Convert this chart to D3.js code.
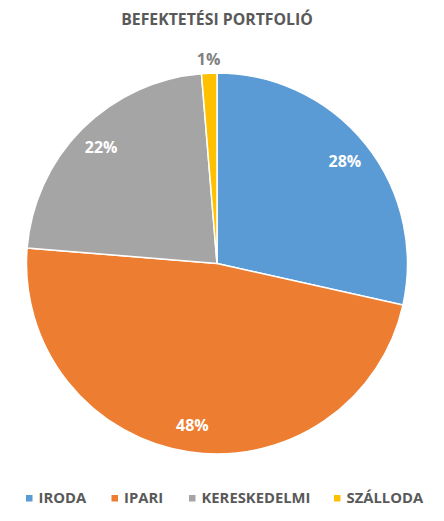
<!DOCTYPE html>
<html><head><meta charset="utf-8">
<script src="https://cdn.jsdelivr.net/npm/d3@7"></script>
<style>body{margin:0;background:#fff}svg{display:block}</style>
</head><body>
<svg id="c" width="444" height="521"></svg>
<script>
const categories = ["IRODA", "IPARI", "KERESKEDELMI", "SZÁLLODA"];
const values = [28.5, 47.8, 22.4, 1.3];
const labels = ["28%", "48%", "22%", "1%"];
const colors = ["#5B9BD5", "#ED7D31", "#A5A5A5", "#FFC000"];
const title = "BEFEKTETÉSI PORTFOLIÓ";

const svg = d3.select("#c");
const cx = 217, cy = 263.5, R = 190.5;
const font = "'Open Sans', 'Liberation Sans', sans-serif";

svg.append("text").attr("x", 217).attr("y", 25).attr("text-anchor", "middle")
  .attr("font-family", font).attr("font-weight", "bold").attr("font-size", 15.8)
  .attr("fill", "#595959").text(title);

const data = categories.map((c, i) => ({c, v: values[i], l: labels[i], col: colors[i]}));
const pie = d3.pie().value(d => d.v).sort(null);
const arcs = pie(data);
const arc = d3.arc().innerRadius(0).outerRadius(R);
const g = svg.append("g").attr("transform", `translate(${cx},${cy})`);
g.selectAll("path").data(arcs).join("path")
  .attr("d", arc).attr("fill", d => d.data.col)
  .attr("stroke", "#fff").attr("stroke-width", 1.5);

const labelArc = d3.arc().innerRadius(R * 0.86).outerRadius(R * 0.86);
const outArc = d3.arc().innerRadius(R + 14).outerRadius(R + 14);
g.selectAll("text.lbl").data(arcs).join("text").attr("class", "lbl")
  .attr("transform", d => {
    const small = d.data.v < 5;
    const p = small ? outArc.centroid(d) : labelArc.centroid(d);
    return `translate(${p[0]},${p[1]})`;
  })
  .attr("text-anchor", "middle").attr("dy", "0.36em")
  .attr("font-family", font).attr("font-weight", "bold").attr("font-size", 16)
  .attr("fill", d => d.data.v < 5 ? "#7F7F7F" : "#fff")
  .text(d => d.data.l);

const legX = [26, 111.5, 189, 334];
const leg = svg.append("g");
data.forEach((d, i) => {
  leg.append("rect").attr("x", legX[i]).attr("y", 495).attr("width", 6.5).attr("height", 6.5).attr("fill", d.col);
  leg.append("text").attr("x", legX[i] + 12.5).attr("y", 503)
    .attr("font-family", font).attr("font-weight", "bold").attr("font-size", 14.8)
    .attr("fill", "#595959").text(d.c);
});
</script>
</body></html>
